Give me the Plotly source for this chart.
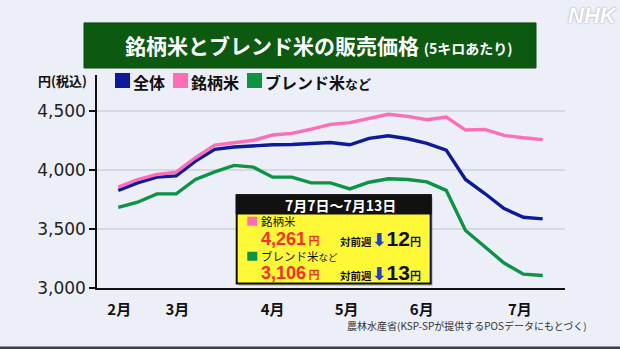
import plotly.graph_objects as go

# ---------------- data ----------------
weeks = list(range(23))
month_labels = ["2月", "3月", "4月", "5月", "6月", "7月"]
month_pos = [0.05, 3.06, 8.0, 11.84, 15.73, 20.82]

overall = [3829, 3893, 3942, 3953, 4078, 4178, 4198, 4209, 4217, 4220, 4228, 4236,
           4217, 4272, 4294, 4268, 4229, 4172, 3922, 3803, 3675, 3601, 3587]
brand = [3857, 3922, 3965, 3985, 4107, 4215, 4234, 4255, 4300, 4314, 4350, 4391,
         4405, 4442, 4476, 4458, 4430, 4452, 4342, 4348, 4297, 4277, 4261]
blend = [3686, 3729, 3800, 3800, 3922, 3987, 4042, 4027, 3942, 3942, 3893, 3893,
         3842, 3899, 3928, 3922, 3902, 3830, 3489, 3351, 3212, 3118, 3106]

y_ticks = [3000, 3500, 4000, 4500]
y_ticktext = ["3,000", "3,500", "4,000", "4,500"]

series_names = ["全体", "銘柄米", "ブレンド米など"]
colors = ["#0d1a9c", "#ff6eb4", "#0a9444"]

latest_period = "7月7日～7月13日"
latest_brand, latest_blend = 4261, 3106
diff_brand, diff_blend = 12, 13

# ---------------- layout helpers ----------------
L, R, T, B = 97, 565, 75, 287.7
def X(px):
    return (px - L) / (R - L)
def Y(py):
    return (B - py) / (B - T)

JP = "Noto Sans CJK JP"
LIB = "Liberation Sans"
BG = "#eceef8"
RED = "#ff2d2d"

fig = go.Figure()
for vals, name, col in zip([overall, brand, blend], series_names, colors):
    fig.add_trace(go.Scatter(x=weeks, y=vals, mode="lines", name=name,
                             line=dict(color=col, width=3.4), showlegend=False,
                             hoverinfo="skip"))

shapes = []
annotations = []

def ann(px, py, text, font, xanchor="left", yanchor="middle", align="left"):
    annotations.append(dict(xref="paper", yref="paper", x=X(px), y=Y(py),
                            xanchor=xanchor, yanchor=yanchor, showarrow=False,
                            align=align, borderpad=0, text=text, font=font))

# title box
shapes.append(dict(type="rect", xref="paper", yref="paper",
                   x0=X(84), x1=X(536), y0=Y(68), y1=Y(23),
                   fillcolor="#0c5a10", line=dict(color="#0a4a0c", width=1)))
ann(319, 45.5,
    "<b>銘柄米とブレンド米の販売価格 <span style='font-size:14px'>(5キロあたり)</span></b>",
    dict(family=JP, size=21, color="white"), xanchor="center")
# NHK mark
ann(593, 16, "<b><i>NHK</i></b>",
    dict(family=LIB, size=22, color="white", shadow="0px 0px 2px #8a90a4"),
    xanchor="center")
# unit label
ann(88, 80.7, "<b>円(税込)</b>", dict(family=JP, size=13, color="#111"), xanchor="right")
# legend
leg_x = [115, 173, 247]
for i, (name, col) in enumerate(zip(series_names, colors)):
    shapes.append(dict(type="rect", xref="paper", yref="paper",
                       x0=X(leg_x[i]), x1=X(leg_x[i] + 15), y0=Y(88), y1=Y(73),
                       fillcolor=col, line=dict(width=0)))
    label = name if name != "ブレンド米など" else "ブレンド米<span style='font-size:13px'>など</span>"
    ann(leg_x[i] + 17, 81.5, "<b>" + label + "</b>", dict(family=JP, size=16, color="#111"))

# info box
shapes.append(dict(type="rect", xref="paper", yref="paper",
                   x0=X(238.7), x1=X(432.7), y0=Y(285.5), y1=Y(197),
                   fillcolor="rgba(0,0,0,0.22)", line=dict(width=0)))
shapes.append(dict(type="rect", xref="paper", yref="paper",
                   x0=X(236.7), x1=X(430.7), y0=Y(283.3), y1=Y(195),
                   fillcolor="#fff836", line=dict(color="#111", width=2)))
shapes.append(dict(type="rect", xref="paper", yref="paper",
                   x0=X(236.7), x1=X(430.7), y0=Y(213.3), y1=Y(195),
                   fillcolor="#111", line=dict(color="#111", width=2)))
ann(340, 204.5, "<b>" + latest_period + "</b>",
    dict(family=JP, size=14, color="white"), xanchor="center")

rows = [(colors[1], "銘柄米", latest_brand, diff_brand, 221, 238.5),
        (colors[2], "ブレンド米<span style='font-size:9.5px'>など</span>", latest_blend, diff_blend, 256, 273)]
for col, lab, val, diff, ylab, yval in rows:
    shapes.append(dict(type="rect", xref="paper", yref="paper",
                       x0=X(247.3), x1=X(257.3), y0=Y(ylab + 4.5), y1=Y(ylab - 4.5),
                       fillcolor=col, line=dict(width=0)))
    ann(260, ylab, lab, dict(family=JP, size=11.5, color="#111"))
    ann(260, yval,
        "<b>" + f"{val:,}" + "<span style='font-family:Noto Sans CJK JP;font-size:11px'> 円</span></b>",
        dict(family=LIB, size=18, color=RED))
    ann(339, yval - 0.5,
        "<b><span style='font-family:Noto Sans CJK JP;font-size:10.5px'>対前週</span>"
        "<span style='font-family:DejaVu Sans;font-size:18px;color:#1f3fc8'>⬇</span>"
        + str(diff) +
        "<span style='font-family:Noto Sans CJK JP;font-size:11px'>円</span></b>",
        dict(family=LIB, size=21, color="#111"))

# source
ann(588, 325.5, "農林水産省(KSP-SPが提供するPOSデータにもとづく)",
    dict(family=JP, size=10, color="#333"), xanchor="right")
# bottom dark strip
shapes.append(dict(type="rect", xref="paper", yref="paper",
                   x0=X(0), x1=X(620), y0=Y(349), y1=Y(346),
                   fillcolor="#3a3c48", line=dict(width=0)))

fig.update_layout(
    width=620, height=349,
    margin=dict(l=L, r=620 - R, t=T, b=349 - B),
    paper_bgcolor=BG, plot_bgcolor=BG,
    showlegend=False,
    shapes=shapes, annotations=annotations,
    xaxis=dict(range=[-1.104, 23.157], tickvals=month_pos,
               ticktext=["<b>" + m + "</b>" for m in month_labels],
               tickfont=dict(family=JP, size=15, color="#111"),
               showgrid=False, zeroline=False, showline=True,
               linecolor="#111", linewidth=2,
               ticks="outside", ticklen=7, tickcolor="rgba(0,0,0,0)"),
    yaxis=dict(range=[3000, 4810], tickvals=y_ticks, ticktext=y_ticktext,
               tickfont=dict(family="DejaVu Sans", size=17, color="#222"),
               showgrid=True, gridcolor="#d6d8e2", gridwidth=1.5,
               zeroline=False, showline=True, linecolor="#111", linewidth=1.5,
               ticks="outside", ticklen=6, tickcolor="#111", tickwidth=1.5),
)

fig.write_html("out.html")
